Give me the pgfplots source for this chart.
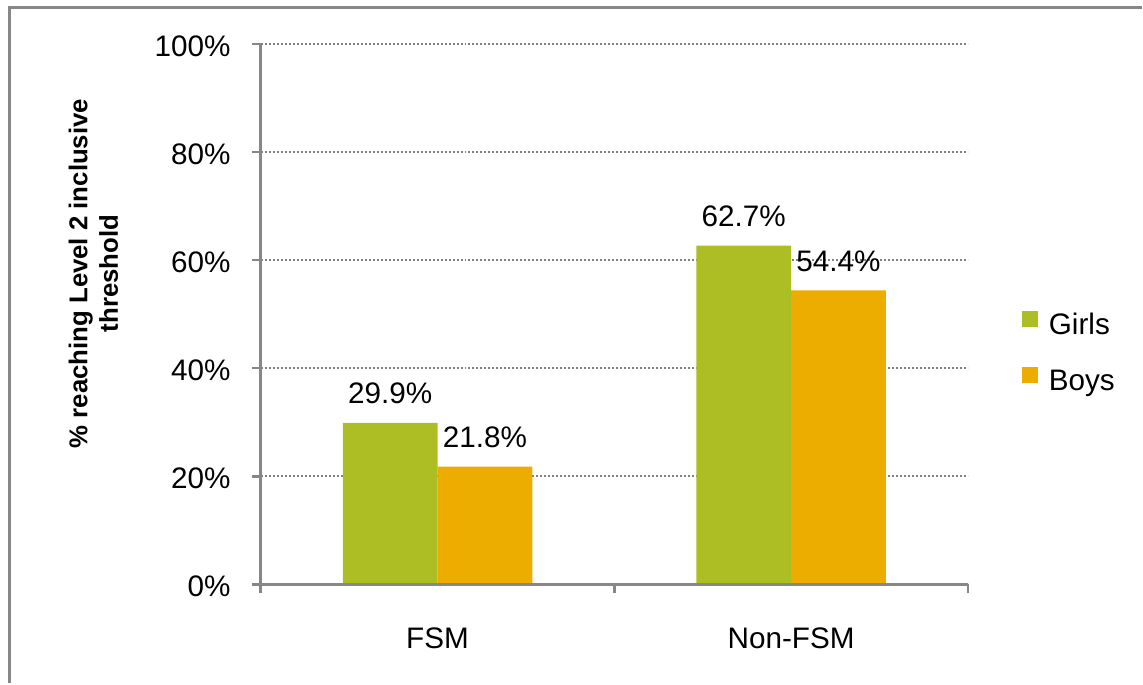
\documentclass[border=0pt]{standalone}
\usepackage{fontspec}
\setmainfont{Liberation Sans}
\usepackage{pgfplots}
\pgfplotsset{compat=1.18}
\definecolor{girls}{HTML}{ADBD24}
\definecolor{boys}{HTML}{ECAD00}
\definecolor{axisgray}{HTML}{878787}
\definecolor{gridgray}{HTML}{808080}
\pgfplotsset{layers/mylayers/.define layer set={axis background,axis grid,pre main,main,axis ticks,axis lines,axis tick labels,axis descriptions,axis foreground}{/pgfplots/layers/standard}}
\begin{document}
\begin{tikzpicture}[x=1bp,y=1bp]
\draw[axisgray, line width=2.5bp] (9.5,0) -- (9.5,676.5) -- (1143,676.5);
\begin{axis}[
  set layers=mylayers,
  at={(261bp,99bp)}, anchor=south west,
  scale only axis, width=708bp, height=541bp,
  xmin=-0.5, xmax=1.5, ymin=0, ymax=100,
  axis x line*=bottom, axis y line*=left,
  axis line style={-, draw=axisgray, line width=2.5bp},
  xtick={-0.5,0.5,1.5}, xticklabels={},
  extra x ticks={0,1}, extra x tick labels={FSM,Non-FSM},
  extra x tick style={major tick length=0pt, xticklabel style={anchor=north, yshift=-43bp}},
  ytick={0,20,...,100},
  yticklabel={\pgfmathprintnumber{\tick}\%},
  yticklabel style={anchor=east, xshift=-21bp, yshift=-2bp},
  tick align=outside,
  major tick length=9bp,
  tick style={draw=axisgray, line width=2.5bp},
  ymajorgrids,
  grid style={draw=gridgray, line width=2bp, dash pattern=on 2bp off 2bp},
  /pgf/number format/assume math mode=true,
  tick label style={font=\fontsize{29.8}{34}\selectfont, inner sep=0pt},
  ybar, bar width=0.268,
  nodes near coords={\pgfmathprintnumber[fixed,precision=1,fixed zerofill]{\pgfplotspointmeta}\%},
  nodes near coords style={font=\fontsize{29.8}{34}\selectfont, anchor=south, inner sep=0pt, yshift=19bp, text depth=0pt},
  ylabel={\% reaching Level 2 inclusive\\threshold},
  ylabel style={at={(axis description cs:-0.2366,0.575)}, anchor=center, align=center, font=\bfseries\fontsize{25.9}{30.6}\selectfont, inner sep=0pt},
  legend style={at={(axis description cs:1.0763,0.5055)}, anchor=north west, draw=none, fill=none, inner sep=0pt, outer sep=0pt, row sep=25.5bp, column sep=11bp, font=\fontsize{29.8}{34}\selectfont, nodes={inner sep=0pt, text height=22bp, text depth=7bp, anchor=west}},
  legend image code/.code={\fill[#1,/tikz/.cd] (0bp,0bp) rectangle (16bp,16bp);},
]
\addplot[fill=girls, draw=none, bar shift=-0.134] coordinates {(0,29.9) (1,62.7)};
\addplot[fill=boys, draw=none, bar shift=0.134] coordinates {(0,21.8) (1,54.4)};
\legend{Girls,Boys}
\end{axis}
\path (0,0) rectangle (1143,684);
\end{tikzpicture}
\end{document}
